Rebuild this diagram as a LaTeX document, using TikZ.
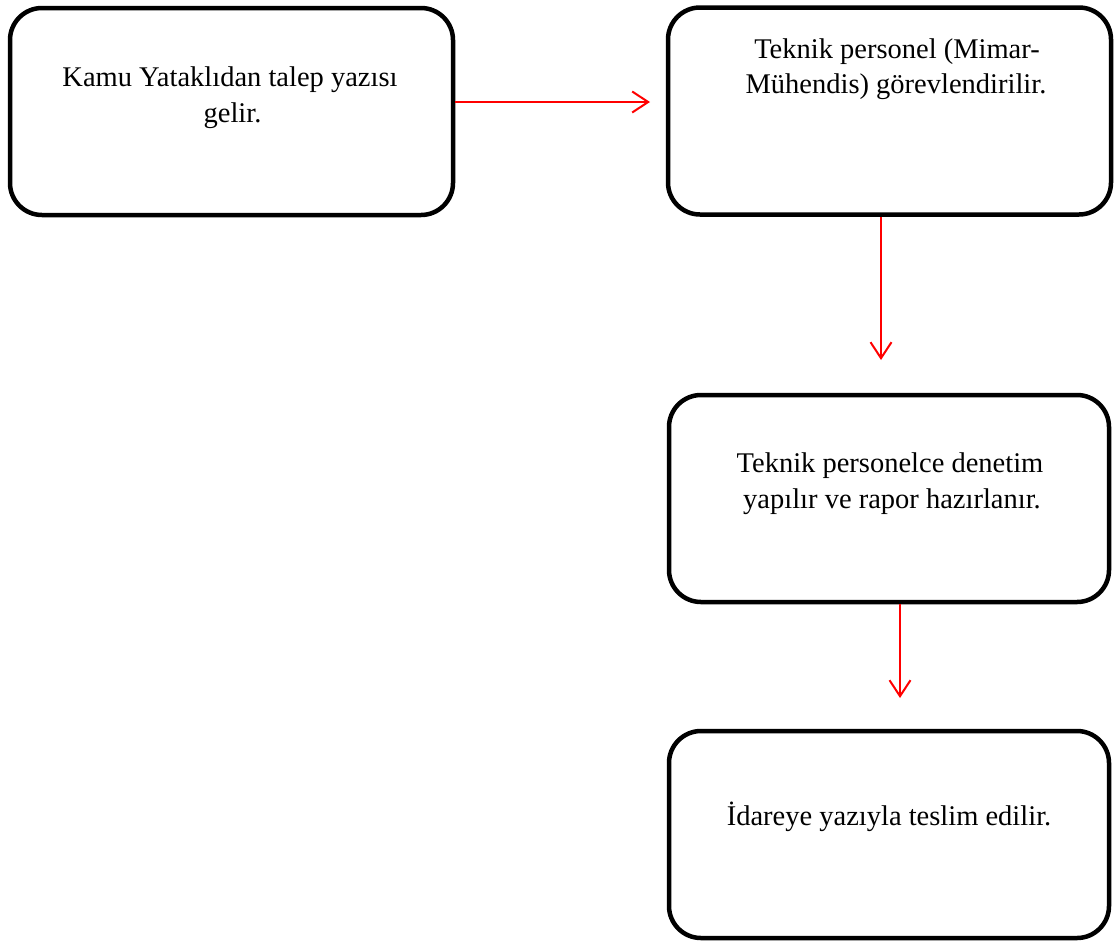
\documentclass[tikz,border=0pt]{standalone}
\usepackage{fontspec}
\setmainfont{Liberation Serif}
\usetikzlibrary{arrows.meta}
\begin{document}
\begin{tikzpicture}[x=1pt,y=-1pt,
  stepbox/.style={draw=black,line width=4.5pt,rounded corners=32pt,
    minimum width=#1,minimum height=207pt,inner sep=0pt},
  stepbox/.default=443pt,
  txt/.style={anchor=base,inner sep=0pt,font=\fontsize{28.5}{36}\selectfont},
  flow/.style={draw=red,line width=2pt,
    -{Straight Barb[length=16pt,width=21pt,line width=2pt]}}]
\useasboundingbox (0,0) rectangle (1118,943);

% boxes
\node[stepbox] (b1) at (231.5,111.5) {};
\node[stepbox] (b2) at (889.5,111) {};
\node[stepbox=440pt] (b3) at (889,498.5) {};
\node[stepbox=440pt] (b4) at (889,834.5) {};

% texts
\node[txt] (t1a) at (230,86) {Kamu Yataklıdan talep yazısı};
\node[txt] (t1b) at (232.5,122) {gelir.};
\node[txt] (t2a) at (897,58) {Teknik personel (Mimar-};
\node[txt] (t2b) at (896,93) {Mühendis) görevlendirilir.};
\node[txt] (t3a) at (890,472) {Teknik personelce denetim};
\node[txt] (t3b) at (892,508) {yapılır ve rapor hazırlanır.};
\node[txt] (t4a) at (889,825) {İdareye yazıyla teslim edilir.};

% connectors
\coordinate (e1) at (650,102);
\coordinate (e2) at (881,360);
\coordinate (e3) at (900,698);
\draw[flow] (b1.east |- e1) -- (e1);
\draw[flow] (b2.south -| e2) -- (e2);
\draw[flow] (b3.south -| e3) -- (e3);
\end{tikzpicture}
\end{document}
